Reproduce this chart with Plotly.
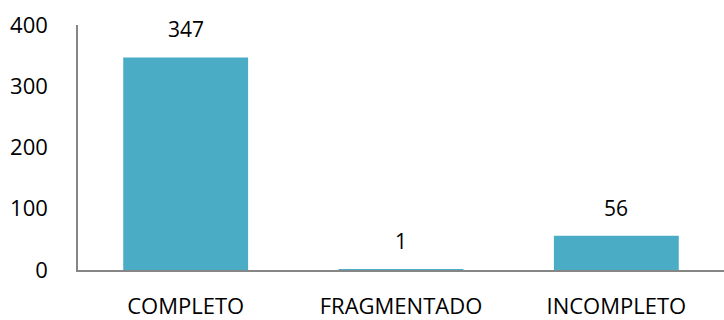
import plotly.graph_objects as go

categories = ["COMPLETO", "FRAGMENTADO", "INCOMPLETO"]
counts = [347, 1, 56]
y_ticks = [0, 100, 200, 300, 400]

BAR_COLOR = "#4BACC6"
AXIS_COLOR = "#868686"
FONT = "Open Sans"

fig = go.Figure(
    go.Bar(
        x=categories,
        y=counts,
        marker=dict(color=BAR_COLOR, line=dict(width=0)),
        width=0.58,
        hoverinfo="skip",
    )
)

# value labels above each bar
for cat, val in zip(categories, counts):
    fig.add_annotation(
        x=cat, y=val, text=str(val), showarrow=False,
        yanchor="middle", yshift=28,
        font=dict(family=FONT, size=21, color="#000000"),
    )

fig.update_layout(
    width=724, height=320,
    margin=dict(l=78, r=0, t=25, b=50),
    paper_bgcolor="white", plot_bgcolor="white",
    showlegend=False,
    font=dict(family=FONT, size=21, color="#000000"),
)
fig.update_xaxes(
    showline=True, linecolor=AXIS_COLOR, linewidth=1.5,
    showgrid=False, ticks="", ticklabelstandoff=16, automargin=False,
    tickfont=dict(family=FONT, size=22, color="#000000"),
)
fig.update_yaxes(
    range=[0, 400], tickvals=y_ticks,
    showline=True, linecolor=AXIS_COLOR, linewidth=1.5,
    showgrid=False, zeroline=False, ticks="", ticklabelstandoff=24,
    automargin=False,
    tickfont=dict(family=FONT, size=22, color="#000000"),
)

fig.write_html("out.html")
